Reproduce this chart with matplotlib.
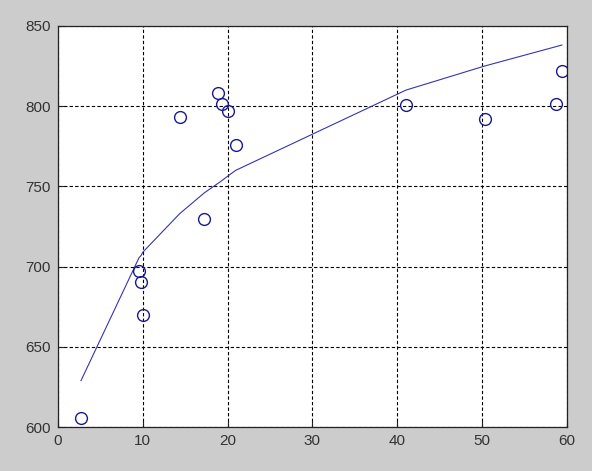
import matplotlib.pyplot as plt

# measured points (circles)
x_pts = [2.71, 9.55, 9.8, 10.0, 14.35, 17.26, 18.9, 19.3, 20.05, 20.96, 41.05, 50.33, 58.7, 59.45]
y_pts = [606, 697, 690.5, 670, 793.5, 730, 808, 801.5, 797, 775.5, 800.7, 792, 801.6, 822]

y_fit = [629, 705.5, 707, 709, 733, 746, 752, 753.5, 756.5, 760, 810, 825, 837, 838.1]

x_ticks = [0, 10, 20, 30, 40, 50, 60]
y_ticks = [600, 650, 700, 750, 800, 850]

plt.rcParams['font.family'] = ['Liberation Sans', 'DejaVu Sans']

fig = plt.figure(figsize=(5.92, 4.71), dpi=100, facecolor='#cccccc')
ax = fig.add_axes([0.098, 0.093, 0.859, 0.852])
ax.set_facecolor('white')

ax.plot(x_pts, y_fit, color='#3535b0', lw=0.8)
ax.plot(x_pts, y_pts, 'o', mfc='none', mec='#1a1a8e', mew=1.0, ms=8.5, linestyle='none')

ax.set_xlim(0, 60)
ax.set_ylim(600, 850)
ax.set_xticks(x_ticks)
ax.set_yticks(y_ticks)
ax.grid(True, color='black', linestyle=(0, (3, 2)), lw=0.8)
ax.tick_params(direction='in', length=4, width=0.8, colors='#222222',
               labelsize=11, labelcolor='#333333', pad=5)
for s in ax.spines.values():
    s.set_color('#222222')
    s.set_linewidth(0.9)

fig.savefig('out.png', dpi=100, facecolor=fig.get_facecolor())
